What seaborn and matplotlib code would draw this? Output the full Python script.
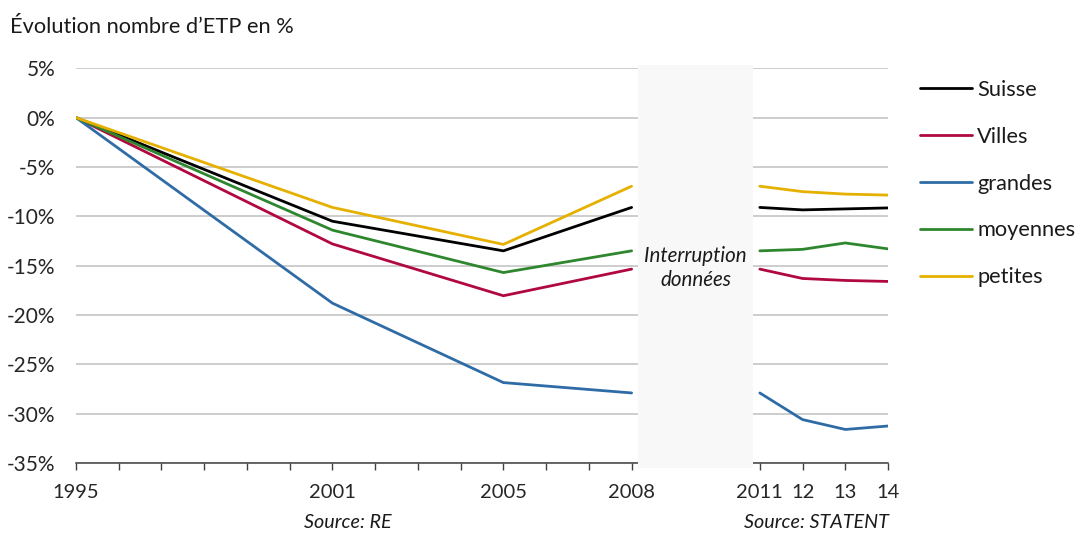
import numpy as np
import pandas as pd
import matplotlib
matplotlib.use("Agg")
import matplotlib.pyplot as plt
import seaborn as sns
from matplotlib.patches import Rectangle

# Évolution du nombre d'ETP depuis 1995 (en %)
annees_re = [1995, 2001, 2005, 2008]
annees_statent = [2011, 2012, 2013, 2014]

series = ["Suisse", "Villes", "grandes", "moyennes", "petites"]

suisse_re = [0.0, -10.5, -13.5, -9.1]
villes_re = [0.0, -12.8, -18.05, -15.35]
grandes_re = [0.0, -18.8, -26.85, -27.9]
moyennes_re = [0.0, -11.4, -15.7, -13.5]
petites_re = [0.0, -9.1, -12.85, -6.95]

suisse_statent = [-9.1, -9.35, -9.25, -9.15]
villes_statent = [-15.35, -16.3, -16.5, -16.6]
grandes_statent = [-27.9, -30.6, -31.6, -31.25]
moyennes_statent = [-13.5, -13.35, -12.7, -13.3]
petites_statent = [-6.95, -7.5, -7.75, -7.85]

tick_years = [1995, 2001, 2005, 2008, 2011, 2012, 2013, 2014]
tick_labels = ["1995", "2001", "2005", "2008", "2011", "12", "13", "14"]
minor_years = [1995, 1996, 1997, 1998, 1999, 2000, 2001, 2002, 2003, 2004,
               2005, 2006, 2007, 2008, 2011, 2012, 2013, 2014]
y_ticks = [5, 0, -5, -10, -15, -20, -25, -30, -35]

colors = ["#000000", "#b0083f", "#2f6ca6", "#2e872e", "#e6b000"]

re_values = [suisse_re, villes_re, grandes_re, moyennes_re, petites_re]
statent_values = [suisse_statent, villes_statent, grandes_statent,
                  moyennes_statent, petites_statent]

rows = []
for name, vals in zip(series, re_values):
    for yr, v in zip(annees_re, vals):
        rows.append({"année": yr, "valeur": v, "série": name, "source": "RE"})
for name, vals in zip(series, statent_values):
    for yr, v in zip(annees_statent, vals):
        rows.append({"année": yr, "valeur": v, "série": name, "source": "STATENT"})
df = pd.DataFrame(rows)

sns.set_theme(style="white")
plt.rcParams["font.family"] = ["Lato", "DejaVu Sans"]

fig = plt.figure(figsize=(10.81, 5.33), dpi=100)
ax = fig.add_axes([0.0703, 0.1313, 0.7512, 0.7406])

sns.lineplot(data=df, x="année", y="valeur", hue="série", units="source",
             estimator=None, palette=dict(zip(series, colors)),
             hue_order=series, linewidth=2.0, ax=ax, zorder=3)

ax.set_xlim(1995, 2014)
ax.set_ylim(-35, 5)
ax.set_yticks(y_ticks)
ax.set_yticklabels([f"{t}%" for t in y_ticks], fontsize=15)
ax.set_xticks(tick_years)
ax.set_xticklabels(tick_labels, fontsize=14.5)
ax.set_xticks(minor_years, minor=True)
ax.tick_params(axis="x", which="both", direction="out", length=5, width=1,
               color="#404040", bottom=True, pad=10)
ax.tick_params(axis="y", length=0, pad=15)
ax.set_xlabel("")
ax.set_ylabel("")

ax.grid(axis="y", color="#c0c0c0", linewidth=1.1)
ax.grid(axis="x", visible=False)
for side in ["left", "right", "top"]:
    ax.spines[side].set_visible(False)
ax.spines["bottom"].set_color("#404040")
ax.spines["bottom"].set_linewidth(1.1)
ax.set_axisbelow(True)

# Zone sans données entre les deux sources
gap = Rectangle((2008.15, -35.5), 2.68, 40.8, facecolor="#f8f8f8",
                edgecolor="none", zorder=4, clip_on=False)
ax.add_patch(gap)
ax.text(2009.5, -15.2, "Interruption\ndonnées", ha="center", va="center",
        fontsize=14.8, style="italic", color="#1a1a1a", zorder=5,
        linespacing=1.25)

fig.text(0.009, 0.95, "Évolution nombre d\u2019ETP en %", fontsize=15.7,
         ha="left", va="center", color="#1a1a1a")
fig.text(348 / 1081, 1 - 523 / 533, "Source: RE", fontsize=14.2, style="italic",
         ha="center", va="center", color="#1a1a1a")
fig.text(889 / 1081, 1 - 523 / 533, "Source: STATENT", fontsize=14.2,
         style="italic", ha="right", va="center", color="#1a1a1a")

handles, labels = ax.get_legend_handles_labels()
leg = ax.legend(handles, labels, loc="upper left",
                bbox_to_anchor=(920 / 1081, 1 - 80 / 533),
                bbox_transform=fig.transFigure, frameon=False, fontsize=15.7,
                handlelength=2.4, handletextpad=0.23, labelspacing=1.23,
                borderpad=0, borderaxespad=0)
for line in leg.get_lines():
    line.set_linewidth(2.0)
for t in leg.get_texts():
    t.set_color("#1a1a1a")

fig.savefig("out.png", dpi=100)
